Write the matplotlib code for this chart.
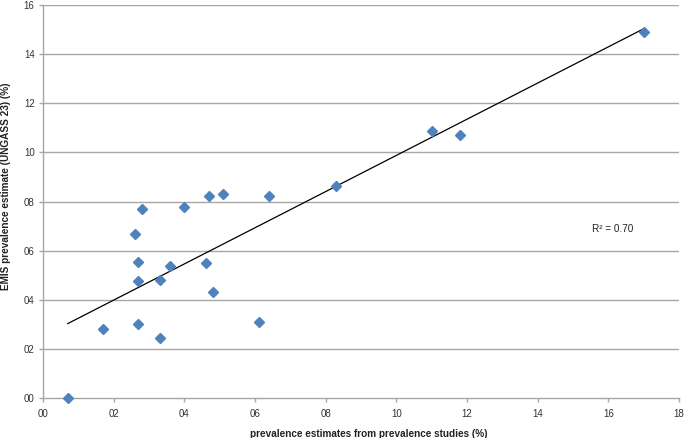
import numpy as np
import matplotlib
matplotlib.use("Agg")
import matplotlib.pyplot as plt

plt.rcParams['font.family'] = ['Liberation Sans', 'DejaVu Sans']

# data
study_prev = [0.7, 1.7, 2.6, 2.7, 2.7, 2.7, 2.8, 3.3, 3.3, 3.6, 4.0, 4.6, 4.7,
              4.8, 5.1, 6.1, 6.4, 8.3, 11.0, 11.8, 17.0]
emis_prev = [0.0, 2.81, 6.70, 5.55, 4.78, 3.04, 7.70, 4.82, 2.46, 5.37, 7.78, 5.50, 8.25,
             4.34, 8.30, 3.09, 8.24, 8.62, 10.88, 10.71, 14.91]
x_ticks = [0, 2, 4, 6, 8, 10, 12, 14, 16, 18]
x_tick_labels = ["00", "02", "04", "06", "08", "10", "12", "14", "16", "18"]
y_ticks = [0, 2, 4, 6, 8, 10, 12, 14, 16]
y_tick_labels = ["00", "02", "04", "06", "08", "10", "12", "14", "16"]
r2_label = "R² = 0.70"

x = np.array(study_prev)
y = np.array(emis_prev)

W, H = 685, 438
fig = plt.figure(figsize=(W / 100, H / 100), dpi=100)
ax = fig.add_axes([43 / W, 1 - 398.3 / H, 636 / W, 393.3 / H])

ax.set_xlim(0, 18)
ax.set_ylim(0, 16)

grid_c = '#a6a6a6'
for t in y_ticks[1:]:
    ax.axhline(t, color=grid_c, lw=1.0, zorder=1)

# trend line
slope, intercept = np.polyfit(x, y, 1)
xs = np.array([x.min(), x.max()])
ax.plot(xs, slope * xs + intercept, color='black', lw=0.9, zorder=2)

ax.plot(x, y, linestyle='none', marker='D', markersize=5.5, color='#4f81bd',
        markeredgecolor='#4f81bd', zorder=3, clip_on=False)

ax.text(15.55, 6.9, r2_label, fontsize=7.2, va='center', ha='left', color='#222222')

for s in ['top', 'right']:
    ax.spines[s].set_visible(False)
for s in ['left', 'bottom']:
    ax.spines[s].set_color(grid_c)
    ax.spines[s].set_linewidth(1.0)

ax.set_xticks(x_ticks)
ax.set_xticklabels(x_tick_labels)
ax.set_yticks(y_ticks)
ax.set_yticklabels(y_tick_labels)
ax.tick_params(axis='both', colors=grid_c, labelcolor='#333333', labelsize=7,
               length=3, width=1.0, direction='out')
ax.tick_params(axis='x', pad=4.5)
ax.tick_params(axis='y', pad=3)

fig.text(369 / W, 1 - 434 / H, "prevalence estimates from prevalence studies (%)",
         fontsize=7.2, fontweight='bold', ha='center', va='center', color='#222222')
fig.text(6 / W, 1 - 186 / H, "EMIS prevalence estimate (UNGASS 23) (%)",
         fontsize=7.2, fontweight='bold', ha='center', va='center', rotation=90,
         color='#222222')

fig.savefig("out.png", dpi=100)
